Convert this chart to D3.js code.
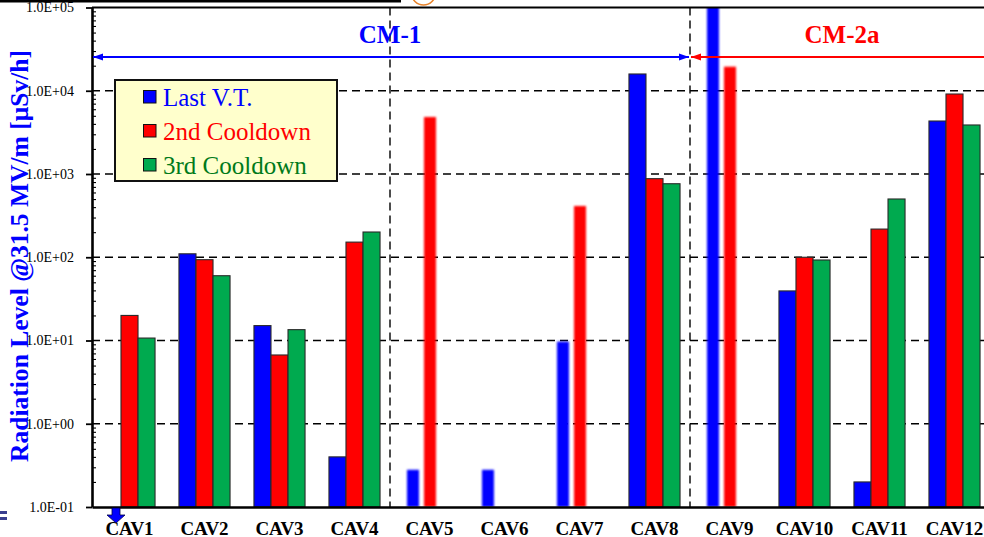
<!DOCTYPE html>
<html>
<head>
<meta charset="utf-8">
<script src="https://cdn.jsdelivr.net/npm/d3@7"></script>
<style>
  html, body { margin: 0; padding: 0; background: #fff; }
  svg { display: block; font-family: "Liberation Serif", "Times New Roman", serif; }
</style>
</head>
<body>
<svg id="chart" width="984" height="537"></svg>
<script>
// Radiation level per cavity, three measurement campaigns (μSv/h at 31.5 MV/m)
const categories = ["CAV1","CAV2","CAV3","CAV4","CAV5","CAV6","CAV7","CAV8","CAV9","CAV10","CAV11","CAV12"];
const seriesNames = ["Last V.T.", "2nd Cooldown", "3rd Cooldown"];
const lastVT      = [null, 110, 15.1, 0.40, 0.28, 0.28, 9.7, 15900, 150000, 39.4, 0.20, 4330];
const cooldown2   = [20, 93.5, 6.7, 152, 4840, null, 413, 879, 19450, 100, 218, 9140];
const cooldown3   = [10.7, 60, 13.5, 201, null, null, null, 764, null, 92.7, 501, 3880];
const yTickValues = [1e-1, 1e0, 1e1, 1e2, 1e3, 1e4, 1e5];
const yTickLabels = ["1.0E-01","1.0E+00","1.0E+01","1.0E+02","1.0E+03","1.0E+04","1.0E+05"];
const modules = [
  { name: "CM-1",  from: "CAV1", to: "CAV8" },
  { name: "CM-2a", from: "CAV9", to: "CAV12" }
];

const serif = '"Liberation Serif", "Times New Roman", serif';
const colors = ["#0000ff", "#ff0000", "#00aa4f"];
const textColors = ["#0000ff", "#ff0000", "#007a1a"];
// cavities whose bars are drawn as soft, unbordered strokes
const softCavities = new Set(["CAV5", "CAV6", "CAV7", "CAV9"]);

const svg = d3.select("#chart");
const plot = { left: 92, top: 7.5, right: 992, bottom: 507 };

const x = d3.scaleBand().domain(categories).range([plot.left, plot.right]).padding(0);
const y = d3.scaleLog().domain([1e-1, 1e5]).range([plot.bottom, plot.top]);
const barW = x.bandwidth() * 0.227;

const defs = svg.append("defs");
defs.append("filter").attr("id", "soft").attr("x", "-50%").attr("y", "-5%").attr("width", "200%").attr("height", "110%")
  .append("feGaussianBlur").attr("stdDeviation", 1.1);
defs.append("clipPath").attr("id", "plotClip").append("rect")
  .attr("x", plot.left).attr("y", plot.top).attr("width", plot.right - plot.left).attr("height", plot.bottom - plot.top);

// decoration above the plot
svg.append("rect").attr("x", 0).attr("y", 0).attr("width", 401).attr("height", 2.5).attr("fill", "#000");
svg.append("circle").attr("cx", 423.5).attr("cy", -7).attr("r", 12).attr("fill", "none")
  .attr("stroke", "#e8832a").attr("stroke-width", 1.6);

// dashed decade gridlines
svg.append("g").selectAll("line").data(yTickValues.slice(1, -1)).join("line")
  .attr("x1", plot.left).attr("x2", plot.right)
  .attr("y1", d => y(d)).attr("y2", d => y(d))
  .attr("stroke", "#000").attr("stroke-width", 1.4).attr("stroke-dasharray", "8,5");

// dashed vertical dividers: after CAV4 and between cryomodules
const dividers = ["CAV5", "CAV9"];
svg.append("g").selectAll("line").data(dividers).join("line")
  .attr("x1", d => x(d) - 2).attr("x2", d => x(d) - 2)
  .attr("y1", plot.top).attr("y2", plot.bottom)
  .attr("stroke", "#000").attr("stroke-width", 1.4).attr("stroke-dasharray", "8,5");

// bars
const series = [lastVT, cooldown2, cooldown3];
const barsG = svg.append("g").attr("clip-path", "url(#plotClip)");
series.forEach((vals, si) => {
  const rows = categories.map((c, i) => ({ c, v: vals[i] })).filter(d => d.v != null);
  const offset = (si - 1) * barW;
  const hard = rows.filter(d => !softCavities.has(d.c));
  const soft = rows.filter(d => softCavities.has(d.c));
  barsG.append("g").selectAll("rect").data(hard).join("rect")
    .attr("x", d => x(d.c) + x.bandwidth() / 2 + offset - barW / 2)
    .attr("width", barW)
    .attr("y", d => y(d.v))
    .attr("height", d => plot.bottom - y(d.v))
    .attr("fill", colors[si]).attr("stroke", "#2a2a2a").attr("stroke-width", 1.1);
  const sw = 12;
  barsG.append("g").attr("filter", "url(#soft)").selectAll("rect").data(soft).join("rect")
    .attr("x", d => x(d.c) + x.bandwidth() / 2 + offset - sw / 2 + 0.5)
    .attr("width", sw)
    .attr("y", d => y(d.v))
    .attr("height", d => plot.bottom - y(d.v))
    .attr("fill", colors[si]);
});

// plot frame: top border and axes
svg.append("line").attr("x1", plot.left).attr("x2", plot.right).attr("y1", plot.top).attr("y2", plot.top)
  .attr("stroke", "#000").attr("stroke-width", 1.8);

const minorTicks = [];
for (let e = -1; e < 5; e++) for (let k = 2; k <= 9; k++) minorTicks.push(k * Math.pow(10, e));
const minorAxis = svg.append("g").attr("transform", `translate(${plot.left},0)`)
  .call(d3.axisLeft(y).tickValues(minorTicks).tickSize(-4).tickFormat(""));
minorAxis.select(".domain").remove();
minorAxis.selectAll(".tick line").attr("stroke", "#000").attr("stroke-width", 1.1);

const yAxis = svg.append("g").attr("transform", `translate(${plot.left},0)`)
  .call(d3.axisLeft(y).tickValues(yTickValues).tickSizeInner(6).tickSizeOuter(0)
    .tickPadding(12).tickFormat((d, i) => yTickLabels[i]));
yAxis.attr("font-family", serif);
yAxis.select(".domain").attr("stroke", "#000").attr("stroke-width", 2.6);
yAxis.selectAll(".tick line").attr("stroke", "#000").attr("stroke-width", 1.8);
yAxis.selectAll(".tick text").attr("fill", "#000").style("font-size", "14px").style("font-family", serif);

const xAxis = svg.append("g").attr("transform", `translate(0,${plot.bottom})`)
  .call(d3.axisBottom(x).tickSize(0).tickPadding(0));
xAxis.attr("font-family", serif);
xAxis.select(".domain").attr("stroke", "#000").attr("stroke-width", 2.6);
xAxis.selectAll(".tick text").attr("fill", "#000").attr("y", 27.5).attr("dy", 0)
  .style("font-size", "19px").style("font-weight", "bold").style("font-family", serif);

// y-axis title
svg.append("text")
  .attr("transform", `translate(28,256) rotate(-90)`)
  .attr("text-anchor", "middle")
  .attr("textLength", 412).attr("lengthAdjust", "spacingAndGlyphs")
  .attr("fill", "#0000ff").style("font-weight", "bold").style("font-size", "25px")
  .text("Radiation Level @31.5 MV/m [\u03bcSv/h]");

// cryomodule spans with double arrows
const spanY = 57;
modules.forEach((m, i) => {
  const col = i === 0 ? "#0000ff" : "#ff0000";
  const x0 = i === 0 ? plot.left + 1 : x(m.from) - 1;
  const x1 = i === 0 ? x(modules[1].from) - 3 : plot.right;
  svg.append("line").attr("x1", x0).attr("x2", x1).attr("y1", spanY).attr("y2", spanY)
    .attr("stroke", col).attr("stroke-width", 1.8);
  const heads = i === 0 ? [[x0, 1], [x1, -1]] : [[x0, 1]];
  heads.forEach(([hx, dir]) => {
    svg.append("path")
      .attr("d", `M${hx},${spanY} L${hx + dir * 10},${spanY - 3.5} L${hx + dir * 10},${spanY + 3.5} Z`)
      .attr("fill", col);
  });
  const cx = i === 0 ? 390 : 842;
  svg.append("text").attr("x", cx).attr("y", 43).attr("text-anchor", "middle")
    .attr("fill", col).style("font-weight", "bold").style("font-size", "25px").text(m.name);
});

// legend
const lg = svg.append("g");
lg.append("rect").attr("x", 115).attr("y", 80).attr("width", 222).attr("height", 101)
  .attr("fill", "#ffffcc").attr("stroke", "#111").attr("stroke-width", 2);
seriesNames.forEach((name, i) => {
  const cy = 97 + i * 34;
  lg.append("rect").attr("x", 143.5).attr("y", cy - 6.5).attr("width", 12.5).attr("height", 12.5)
    .attr("fill", colors[i]).attr("stroke", "#111").attr("stroke-width", 1);
  lg.append("text").attr("x", 163).attr("y", cy + 8.5).attr("fill", textColors[i])
    .style("font-size", "25px").text(name);
});

// small markers at lower left
svg.append("path")
  .attr("d", "M112,508 L120,508 L120,515 L125,515 L116,523 L107,515 L112,515 Z")
  .attr("fill", "#0000ff").attr("stroke", "#000044").attr("stroke-width", 0.8);
svg.append("rect").attr("x", 0).attr("y", 511).attr("width", 7).attr("height", 3).attr("fill", "#3a3f8f");
svg.append("rect").attr("x", 0).attr("y", 517).attr("width", 7).attr("height", 3).attr("fill", "#3a3f8f");
</script>
</body>
</html>
